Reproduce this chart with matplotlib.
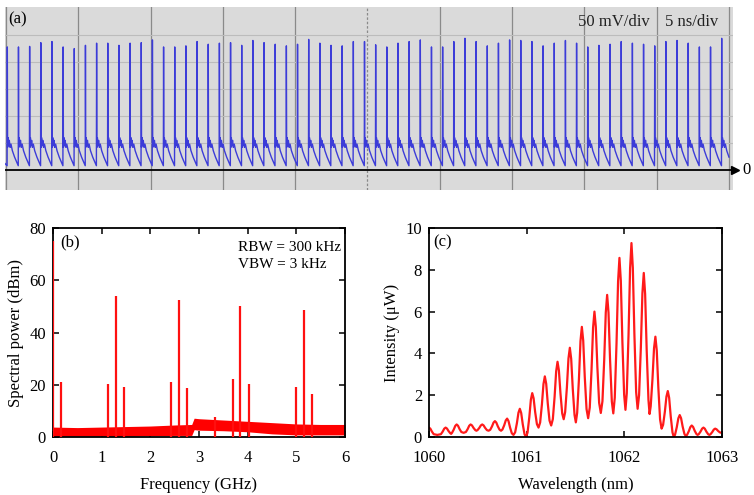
import matplotlib
matplotlib.use("Agg")
import matplotlib.pyplot as plt
import numpy as np

matplotlib.rcParams.update({
    'font.family': ['Liberation Serif', 'DejaVu Serif'],
    'font.size': 12,
})

# (a) scope trace: pulse train, 65 pulses over 10 divisions of 5 ns
pulse_first_ns = 0.09
pulse_period_ns = 0.772
pulse_peaks_mv = [228, 228, 229, 236, 238, 228, 225, 231, 235, 235, 231, 235, 236,
                  241, 228, 228, 230, 238, 233, 235, 236, 231, 240, 236, 233, 230,
                  233, 242, 235, 231, 230, 238, 238, 232,
                  228, 235, 238, 241, 228, 228, 238, 244, 238, 230, 235, 241, 240,
                  238, 230, 235, 240, 235, 228, 231, 233, 238, 235, 233, 230, 238,
                  240, 235, 228, 228, 244]
# one period of the trace after a spike (fraction of period, mV); None = spike top
pulse_phase = [-0.02, 0.0, 0.025, 0.07, 0.12, 0.18, 0.25, 0.33, 0.45, 0.65, 0.85, 0.96]
pulse_shape_mv = [8, None, 42, 60, 45, 55, 42, 48, 36, 24, 14, 9]

# (b) RF spectrum
rf_line_ghz = [0.0, 0.17, 1.14, 1.30, 1.46, 2.43, 2.59, 2.76, 3.33, 3.70, 3.85, 4.02, 4.99, 5.15, 5.32]
rf_line_dbm = [75, 21, 20.3, 53.8, 19, 21, 52.5, 18.7, 7.5, 22.2, 50.2, 20.3, 19, 48.5, 16.5]
floor_ghz = [0, 0.5, 1.0, 1.5, 2.0, 2.5, 2.85, 2.9, 3.0, 3.5, 4.0, 4.5, 5.0, 5.5, 6.0]
floor_hi = [3.8, 3.6, 3.8, 4.0, 4.2, 4.6, 4.8, 7.2, 7.0, 6.5, 6.0, 5.5, 5.0, 4.8, 4.8]
floor_lo = [0.3, 0.3, 0.3, 0.3, 0.5, 0.6, 0.6, 2.8, 2.6, 2.4, 2.0, 1.2, 0.8, 0.8, 0.8]

# (c) optical spectrum: longitudinal mode peaks and the valley after each one
peak_nm = [1060.0, 1060.17, 1060.283, 1060.426, 1060.545, 1060.675, 1060.80, 1060.93,
           1061.057, 1061.186, 1061.316, 1061.442, 1061.565, 1061.694, 1061.824,
           1061.95, 1062.073, 1062.199, 1062.318, 1062.445, 1062.567, 1062.69,
           1062.81, 1062.93]
peak_uw = [0.45, 0.45, 0.6, 0.6, 0.6, 0.76, 0.88, 1.35, 2.1, 2.9, 3.6, 4.27, 5.27,
           6.0, 6.8, 8.57, 9.28, 7.85, 4.8, 2.2, 1.05, 0.55, 0.45, 0.4]
valley_uw = [0.1, 0.15, 0.2, 0.3, 0.3, 0.3, 0.1, 0.0, 0.45, 0.55, 0.85, 0.7, 0.9,
             1.15, 1.13, 1.3, 1.35, 1.1, 0.4, 0.0, 0.05, 0.1, 0.1, 0.2]
peak_offset_nm = [0.048, 0.03, 0.014]
peak_frac = [0.1, 0.45, 0.85]

fig = plt.figure(figsize=(7.54, 4.95), dpi=100)

# ---------- (a) ----------
ax = fig.add_axes([5 / 754, 1 - 190 / 495, 728 / 754, 183 / 495])
ax.set_facecolor('#dadada')
t, v = [-0.07], [12]
for k, h in enumerate(pulse_peaks_mv):
    t0 = pulse_first_ns + k * pulse_period_ns
    for ph, val in zip(pulse_phase, pulse_shape_mv):
        t.append(t0 + ph * pulse_period_ns)
        v.append(h if val is None else val)
t, v = np.array(t), np.array(v)
keep = t <= 50.0
for x in np.arange(0, 51, 5):
    ax.axvline(x, color='#8a8a8a', lw=0.9, ls=(0, (2, 1.5)) if x == 25 else '-', zorder=1)
for y in [50, 100, 150, 200, 250]:
    ax.axhline(y, color='#bcbcbc', lw=0.8, zorder=1)
ax.axhline(0, color='black', lw=1.3, zorder=2)
ax.plot(t[keep], v[keep], color='#3c3cd8', lw=1.0, zorder=3)
ax.set_xlim(-0.07, 50.28)
ax.set_ylim(-37, 302)
ax.set_xticks([])
ax.set_yticks([])
for s in ax.spines.values():
    s.set_visible(False)
ax.plot([50.45], [0], marker='>', color='black', ms=6, clip_on=False, zorder=4)
ax.text(50.9, 0, '0', ha='left', va='center', fontsize=12, clip_on=False)
ax.text(0.004, 0.93, '(a)', transform=ax.transAxes, ha='left', va='center', fontsize=12)
ax.text(44.5, 275, '50 mV/div', ha='right', va='center', fontsize=12, color='#222222')
ax.text(45.6, 275, '5 ns/div', ha='left', va='center', fontsize=12, color='#222222')


def style(a):
    a.tick_params(direction='in', top=True, right=True, length=4, width=1.1,
                  labelsize=12)
    a.tick_params(axis='x', pad=9)
    a.tick_params(axis='y', pad=5)
    for s in a.spines.values():
        s.set_linewidth(1.3)


# ---------- (b) ----------
axb = fig.add_axes([53 / 754, 1 - 437 / 495, 292 / 754, 209 / 495])
axb.fill_between(floor_ghz, floor_lo, floor_hi, color='#ff0000', lw=0, zorder=2)
axb.vlines(rf_line_ghz, 0, rf_line_dbm, color='#ff1010', lw=1.6, zorder=3)
axb.set_xlim(0, 6)
axb.set_ylim(0, 80)
axb.set_xticks(range(0, 7))
axb.set_yticks(range(0, 81, 20))
style(axb)
axb.set_xlabel('Frequency (GHz)', labelpad=8)
axb.set_ylabel('Spectral power (dBm)', labelpad=4)
axb.text(0.025, 0.93, '(b)', transform=axb.transAxes, ha='left', va='center')
axb.text(0.634, 0.905, 'RBW = 300 kHz', transform=axb.transAxes, ha='left', va='center',
         fontsize=11)
axb.text(0.634, 0.823, 'VBW = 3 kHz', transform=axb.transAxes, ha='left', va='center',
         fontsize=11)

# ---------- (c) ----------
axc = fig.add_axes([429 / 754, 1 - 437 / 495, 293 / 754, 209 / 495])
lam, inten = [], []
for i, (pk, h) in enumerate(zip(peak_nm, peak_uw)):
    vl = valley_uw[i - 1] if i > 0 else valley_uw[0]
    vr = valley_uw[i]
    for off, fr in zip(peak_offset_nm, peak_frac):
        lam.append(pk - off)
        inten.append(vl + fr * (h - vl))
    lam.append(pk)
    inten.append(h)
    for off, fr in zip(peak_offset_nm[::-1], peak_frac[::-1]):
        lam.append(pk + off)
        inten.append(vr + fr * (h - vr))
    nxt = peak_nm[i + 1] if i + 1 < len(peak_nm) else 1063.06
    lam.append((pk + nxt) / 2)
    inten.append(vr)
axc.plot(lam, inten, color='#ff1a1a', lw=1.6)
axc.set_xlim(1060, 1063)
axc.set_ylim(0, 10)
axc.set_xticks([1060, 1061, 1062, 1063])
axc.set_yticks(range(0, 11, 2))
style(axc)
axc.set_xlabel('Wavelength (nm)', labelpad=8)
axc.set_ylabel('Intensity (μW)', labelpad=4)
axc.text(0.015, 0.93, '(c)', transform=axc.transAxes, ha='left', va='center')

fig.savefig('out.png', dpi=100)
